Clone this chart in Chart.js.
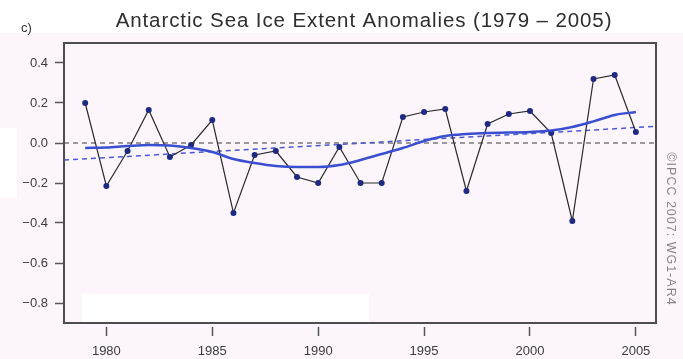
<!DOCTYPE html>
<html>
<head>
<meta charset="utf-8">
<script src="https://cdn.jsdelivr.net/npm/chart.js@4.4.1/dist/chart.umd.min.js"></script>
<style>
  html, body { margin: 0; padding: 0; background: #fcf6fc; }
  #wrap { width: 683px; height: 359px; position: relative; }
  canvas { display: block; }
</style>
</head>
<body>
<div id="wrap"><canvas id="c" width="683" height="359"></canvas></div>
<script>
// Antarctic sea ice extent anomalies, 1979-2005 (10^6 km^2)
const years = [1979, 1980, 1981, 1982, 1983, 1984, 1985, 1986, 1987, 1988,
               1989, 1990, 1991, 1992, 1993, 1994, 1995, 1996, 1997, 1998,
               1999, 2000, 2001, 2002, 2003, 2004, 2005];
const anomalies = [0.20, -0.215, -0.04, 0.165, -0.07, -0.01, 0.115, -0.35, -0.06, -0.04,
                   -0.17, -0.20, -0.02, -0.20, -0.20, 0.13, 0.155, 0.17, -0.24, 0.095,
                   0.145, 0.16, 0.05, -0.39, 0.32, 0.34, 0.055];
// decadal smoothing of the annual series
const smoothed = [-0.025, -0.022, -0.015, -0.01, -0.013, -0.025, -0.045, -0.08, -0.10, -0.115,
                  -0.12, -0.12, -0.11, -0.085, -0.055, -0.025, 0.01, 0.035, 0.045, 0.05,
                  0.052, 0.055, 0.062, 0.08, 0.108, 0.14, 0.155];
// linear trend across the plotted period
const trendYears = [1978, 2005.95];
const trendValues = [-0.085, 0.083];
const zeroValues = [0, 0];

const yTickValues = [-0.8, -0.6, -0.4, -0.2, 0.0, 0.2, 0.4];
const xTickValues = [1980, 1985, 1990, 1995, 2000, 2005];

const titleText = 'Antarctic Sea Ice Extent Anomalies (1979 \u2013 2005)';
const panelLabel = 'c)';
const creditText = '\u00A9IPCC 2007: WG1-AR4';

const pts = (xs, ys) => xs.map((x, i) => ({ x: x, y: ys[i] }));
const fmtY = v => (v < 0 ? '\u2212' : '') + Math.abs(v).toFixed(1);

const BG = '#fcf6fc';
const FRAME = '#4d4d4d';
const TXT = '#3c3c3c';
const FONT = '"Liberation Sans", Arial, sans-serif';

const decor = {
  id: 'decor',
  beforeDraw(chart) {
    const ctx = chart.ctx;
    ctx.save();
    ctx.fillStyle = BG;
    ctx.fillRect(0, 0, chart.width, chart.height);
    ctx.fillStyle = '#ffffff';
    ctx.fillRect(0, 0, chart.width, 33);
    ctx.fillRect(0, 128, 17, 70);
    ctx.restore();
  },
  beforeDatasetsDraw(chart) {
    const ctx = chart.ctx;
    const x = chart.scales.x, y = chart.scales.y;
    ctx.save();
    ctx.fillStyle = '#ffffff';
    const left = x.getPixelForValue(1978.85), right = x.getPixelForValue(1992.4);
    const top = y.getPixelForValue(-0.755);
    ctx.fillRect(left, top, right - left, chart.chartArea.bottom - top);
    ctx.restore();
  },
  afterDraw(chart) {
    const ctx = chart.ctx;
    const a = chart.chartArea;
    ctx.save();
    // plot frame
    ctx.strokeStyle = FRAME;
    ctx.lineWidth = 2;
    ctx.strokeRect(a.left, a.top, a.right - a.left, a.bottom - a.top);
    // title
    ctx.fillStyle = '#2e2e2e';
    ctx.font = '20.5px ' + FONT;
    ctx.letterSpacing = '0.9px';
    ctx.textAlign = 'center';
    ctx.textBaseline = 'alphabetic';
    ctx.fillText(titleText, 364, 27);
    ctx.letterSpacing = '0px';
    // panel label
    ctx.font = '13px ' + FONT;
    ctx.textAlign = 'left';
    ctx.fillText(panelLabel, 21, 32);
    // credit, rotated
    ctx.translate(670, 229);
    ctx.rotate(Math.PI / 2);
    ctx.fillStyle = '#858585';
    ctx.font = '12.5px ' + FONT;
    ctx.letterSpacing = '1px';
    ctx.textAlign = 'center';
    ctx.textBaseline = 'middle';
    ctx.fillText(creditText, 0, 0);
    ctx.restore();
  }
};

new Chart(document.getElementById('c'), {
  type: 'line',
  data: {
    datasets: [
      {
        label: 'zero',
        data: pts(trendYears, zeroValues),
        borderColor: '#7a7a7a',
        borderWidth: 1.5,
        borderDash: [5, 4],
        pointRadius: 0,
        order: 4
      },
      {
        label: 'trend',
        data: pts(trendYears, trendValues),
        borderColor: '#4a5ad2',
        borderWidth: 1.5,
        borderDash: [5, 4],
        pointRadius: 0,
        order: 3
      },
      {
        label: 'annual',
        data: pts(years, anomalies),
        borderColor: '#2a2a2a',
        borderWidth: 1.2,
        pointRadius: 3,
        pointBackgroundColor: '#1d2a82',
        pointBorderColor: '#1d2a82',
        pointBorderWidth: 0,
        tension: 0,
        order: 2
      },
      {
        label: 'smoothed',
        data: pts(years, smoothed),
        borderColor: '#3a4fd0',
        borderWidth: 2.5,
        pointRadius: 0,
        cubicInterpolationMode: 'monotone',
        order: 1
      }
    ]
  },
  options: {
    responsive: false,
    animation: false,
    events: [],
    layout: { padding: { top: 43, right: 27, bottom: 0, left: 0 } },
    plugins: { legend: { display: false }, tooltip: { enabled: false }, title: { display: false } },
    scales: {
      x: {
        type: 'linear',
        min: 1978,
        max: 2005.95,
        afterFit(s) { s.height = 36; },
        afterBuildTicks(s) { s.ticks = xTickValues.map(v => ({ value: v })); },
        border: { display: false },
        grid: {
          drawOnChartArea: false,
          drawTicks: true,
          tickLength: 13,
          tickColor: '#555555',
          tickWidth: 1.5,
          tickBorderDash: [0, 4, 9, 100]
        },
        ticks: {
          color: TXT,
          font: { family: FONT, size: 13 },
          padding: 8,
          maxRotation: 0,
          autoSkip: false,
          callback: v => String(v)
        }
      },
      y: {
        type: 'linear',
        min: -0.9,
        max: 0.5,
        afterFit(s) { s.width = 64; },
        afterBuildTicks(s) { s.ticks = yTickValues.map(v => ({ value: v })); },
        border: { display: false },
        grid: {
          drawOnChartArea: false,
          drawTicks: true,
          tickLength: 9,
          tickColor: '#555555',
          tickWidth: 1.5
        },
        ticks: {
          color: TXT,
          font: { family: FONT, size: 13 },
          padding: 7,
          autoSkip: false,
          callback: v => fmtY(v)
        }
      }
    }
  },
  plugins: [decor]
});
</script>
</body>
</html>
